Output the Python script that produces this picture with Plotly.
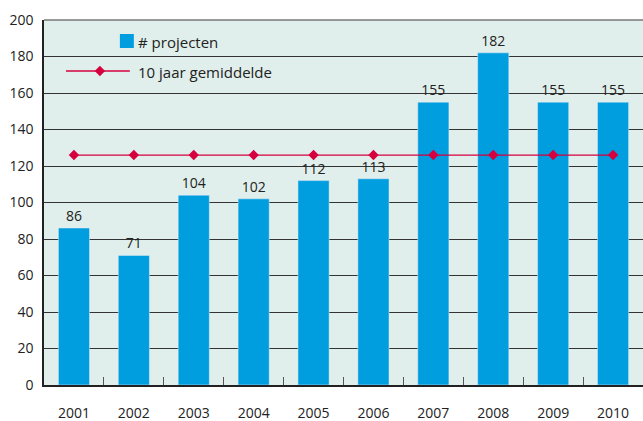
import plotly.graph_objects as go

years = ["2001", "2002", "2003", "2004", "2005", "2006", "2007", "2008", "2009", "2010"]
projecten = [86, 71, 104, 102, 112, 113, 155, 182, 155, 155]
gemiddelde = [126] * 10
y_ticks = [0, 20, 40, 60, 80, 100, 120, 140, 160, 180, 200]

bar_name = "# projecten"
line_name = "10 jaar gemiddelde"
bar_color = "#009ddf"
line_color = "#d6003f"
font_family = "Open Sans, Noto Sans, sans-serif"

fig = go.Figure()
fig.add_trace(go.Bar(
    x=years, y=projecten, name=bar_name, marker_color=bar_color, width=0.52,
    text=[str(v) for v in projecten], textposition="outside",
    textfont=dict(size=14, color="#222", family=font_family), cliponaxis=False,
))
fig.add_trace(go.Scatter(
    x=years, y=gemiddelde, name=line_name, mode="lines+markers",
    line=dict(color=line_color, width=1.3),
    marker=dict(symbol="diamond", size=8, color=line_color),
))

# custom legend
fig.add_shape(type="rect", xref="paper", yref="paper",
              x0=(120 - 44) / 600, x1=(134 - 44) / 600,
              y0=(385 - 48) / 365, y1=(385 - 34) / 365,
              fillcolor=bar_color, line_width=0)
fig.add_annotation(xref="paper", yref="paper", x=(136 - 44) / 600, y=(385 - 42) / 365,
                   text=bar_name, showarrow=False, xanchor="left", yanchor="middle",
                   font=dict(size=15, color="#222", family=font_family))
fig.add_shape(type="line", xref="paper", yref="paper",
              x0=(66 - 44) / 600, x1=(130 - 44) / 600,
              y0=(385 - 71) / 365, y1=(385 - 71) / 365,
              line=dict(color=line_color, width=1.3))
fig.add_trace(go.Scatter(
    x=[(100 - 44) / 600], y=[(385 - 71) / 365], xaxis="x2", yaxis="y2",
    mode="markers", marker=dict(symbol="diamond", size=8, color=line_color),
    showlegend=False, hoverinfo="skip",
))
fig.add_annotation(xref="paper", yref="paper", x=(136 - 44) / 600, y=(385 - 72) / 365,
                   text=line_name, showarrow=False, xanchor="left", yanchor="middle",
                   font=dict(size=15, color="#222", family=font_family))

fig.update_layout(
    width=643, height=421,
    margin=dict(l=44, r=0, t=20, b=36, autoexpand=False),
    paper_bgcolor="white", plot_bgcolor="#e0efeb",
    showlegend=False, bargap=0.48,
    font=dict(family=font_family, size=14, color="#222"),
    xaxis=dict(type="category", range=[-0.5, 9.5], tickson="boundaries", ticks="inside",
               ticklen=8, tickcolor="#555", showgrid=False, showline=True,
               linecolor="#222", linewidth=1.5, tickfont=dict(size=14, color="#222"),
               automargin=False, ticklabelstandoff=14),
    yaxis=dict(range=[0, 200], tickvals=y_ticks, showgrid=True, gridcolor="#333",
               gridwidth=1, showline=True, linecolor="#222", linewidth=1.5,
               ticks="", zeroline=False, tickfont=dict(size=14, color="#222"),
               automargin=False, ticklabelstandoff=6),
    xaxis2=dict(range=[0, 1], overlaying="x", visible=False),
    yaxis2=dict(range=[0, 1], overlaying="y", visible=False),
)
fig.add_shape(type="line", xref="paper", yref="paper", x0=0, x1=1, y0=1, y1=1,
              line=dict(color="#777", width=1.5))

fig.write_html(
    "out.html",
    config={"displayModeBar": False},
    post_script="document.body.style.margin='0';document.body.style.overflow='hidden';",
)
